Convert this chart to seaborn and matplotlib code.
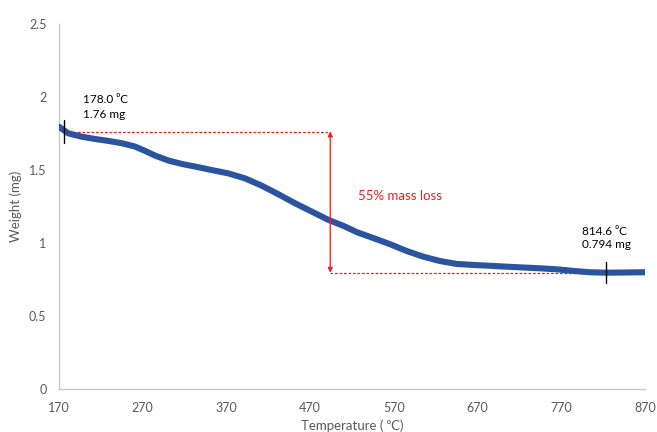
import matplotlib
matplotlib.use('Agg')
import matplotlib.pyplot as plt
import seaborn as sns
import pandas as pd

# TGA curve
temperature = [170, 181, 197, 213, 229, 245, 261, 273, 285, 301, 317, 333, 352,
               372, 392, 412, 432, 452, 472, 492, 510, 526, 546, 566, 585, 605,
               625, 645, 665, 683, 705, 745, 765, 785, 804, 824, 870]
weight = [1.797, 1.752, 1.729, 1.713, 1.700, 1.684, 1.661, 1.631, 1.599, 1.565,
          1.542, 1.524, 1.501, 1.478, 1.444, 1.394, 1.335, 1.273, 1.216, 1.159,
          1.118, 1.075, 1.034, 0.992, 0.947, 0.908, 0.878, 0.858, 0.851, 0.846,
          0.839, 0.828, 0.821, 0.810, 0.801, 0.798, 0.801]

x_ticks = [170, 270, 370, 470, 570, 670, 770, 870]
y_ticks = [0, 0.5, 1, 1.5, 2, 2.5]
y_tick_labels = ['0', '0.5', '1', '1.5', '2', '2.5']

start_T, start_W = 176.5, 1.764
end_T, end_W = 824, 0.798
arrow_T = 494
start_labels = ['178.0 \u2070C', '1.76 mg']
end_labels = ['814.6 \u2070C', '0.794 mg']
loss_label = '55% mass loss'

sns.set_theme(style='white')
plt.rcParams['font.family'] = ['Lato', 'DejaVu Sans']

fig = plt.figure(figsize=(6.57, 4.32), dpi=100)
ax = fig.add_axes([59/657, 1 - 389.3/432, (645 - 59)/657, (389.3 - 24)/432])

df = pd.DataFrame({'Temperature': temperature, 'Weight': weight})
sns.lineplot(data=df, x='Temperature', y='Weight', ax=ax, color='#2a54a0',
             linewidth=4.4, zorder=3, solid_capstyle='round', solid_joinstyle='round')

# dashed reference lines
dash = (0, (2.2, 1.4))
ax.plot([start_T, arrow_T], [start_W, start_W], color='#e8201f', lw=0.9, ls=dash, zorder=2)
ax.plot([arrow_T, end_T], [end_W, end_W], color='#e8201f', lw=0.9, ls=dash, zorder=2)

# double arrow
ax.annotate('', xy=(arrow_T, end_W), xytext=(arrow_T, start_W),
            arrowprops=dict(arrowstyle='<|-|>', color='#e8201f', lw=0.9,
                            mutation_scale=7, shrinkA=0, shrinkB=0), zorder=4)

# marker ticks
ax.plot([start_T, start_T], [1.684, 1.843], color='black', lw=1.0, zorder=5)
ax.plot([end_T, end_T], [0.726, 0.873], color='black', lw=1.0, zorder=5)

ax.text(198.7, 1.98, start_labels[0], fontsize=8.5, color='black', va='center', ha='left')
ax.text(198.7, 1.878, start_labels[1], fontsize=8.5, color='black', va='center', ha='left')
ax.text(794.5, 1.083, end_labels[0], fontsize=8.5, color='black', va='center', ha='left')
ax.text(794.5, 0.988, end_labels[1], fontsize=8.5, color='black', va='center', ha='left')
ax.text(527, 1.323, loss_label, fontsize=9.5, color='#e8201f', va='center', ha='left')

ax.set_xlim(170, 870)
ax.set_ylim(0, 2.5)
ax.set_xticks(x_ticks)
ax.set_xticklabels([str(t) for t in x_ticks])
ax.set_yticks(y_ticks)
ax.set_yticklabels(y_tick_labels)
ax.tick_params(axis='both', length=0, labelsize=9, labelcolor='#595959')
ax.tick_params(axis='x', pad=9)
ax.tick_params(axis='y', pad=9)

ax.set_xlabel('Temperature ( \u2070C)', fontsize=9.5, color='#595959', labelpad=4)
ax.set_ylabel('Weight (mg)', fontsize=9.5, color='#595959', labelpad=5)

for s in ['top', 'right']:
    ax.spines[s].set_visible(False)
for s in ['left', 'bottom']:
    ax.spines[s].set_color('#c8c8c8')
    ax.spines[s].set_linewidth(1.0)
ax.grid(False)

fig.savefig('out.png', dpi=100)
